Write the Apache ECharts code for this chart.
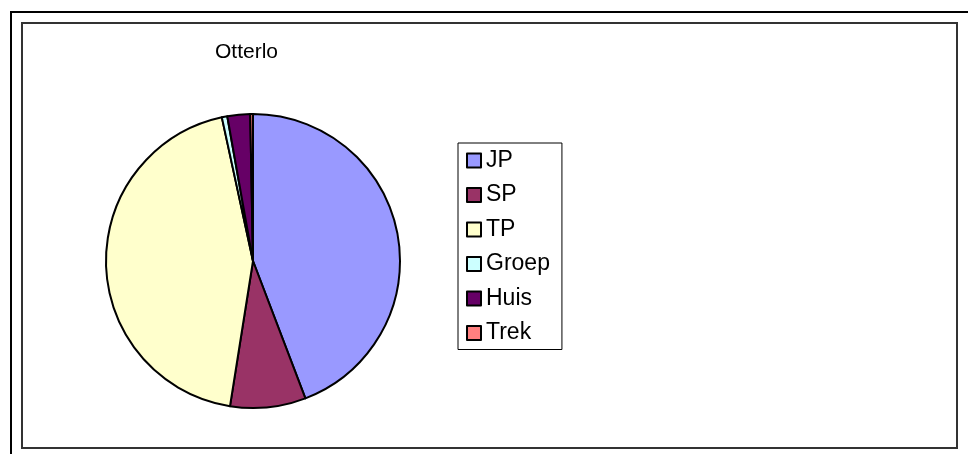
<!DOCTYPE html>
<html>
<head>
<meta charset="utf-8">
<script src="https://cdn.jsdelivr.net/npm/echarts@6/dist/echarts.min.js"></script>
<style>
html,body{margin:0;padding:0;background:#fff;}
#chart{width:968px;height:454px;}
</style>
</head>
<body>
<div id="chart"></div>
<script>
var categories = ['JP', 'SP', 'TP', 'Groep', 'Huis', 'Trek'];
var values = [44.2, 8.3, 44.1, 0.6, 2.5, 0.3];
var colors = ['#9999FF', '#993366', '#FFFFCC', '#CCFFFF', '#660066', '#FF8080'];
var titleText = 'Otterlo';

var chart = echarts.init(document.getElementById('chart'));
var font = '"Liberation Sans", Arial, sans-serif';
chart.setOption({
  animation: false,
  color: colors,
  title: {
    text: titleText,
    left: 215,
    top: 42,
    padding: 0,
    textStyle: { fontFamily: font, fontSize: 21, fontWeight: 'normal', color: '#000' }
  },
  legend: {
    orient: 'vertical',
    left: 458,
    top: 143,
    padding: [6, 12, 5, 8],
    itemGap: 11.5,
    itemWidth: 14,
    itemHeight: 14,
    icon: 'rect',
    borderColor: '#000',
    borderWidth: 1,
    itemStyle: { borderColor: '#000', borderWidth: 2 },
    textStyle: { fontFamily: font, fontSize: 23, color: '#000', lineHeight: 22, padding: [0, 0, 0, 0] },
    data: categories
  },
  graphic: [
    { type: 'rect', shape: { x: 11, y: 12, width: 980, height: 470 }, style: { fill: 'none', stroke: '#000', lineWidth: 2 }, silent: true },
    { type: 'rect', shape: { x: 22, y: 23, width: 935, height: 425 }, style: { fill: 'none', stroke: '#333', lineWidth: 2 }, silent: true }
  ],
  series: [{
    type: 'pie',
    center: [253, 261],
    radius: 147,
    startAngle: 90,
    clockwise: true,
    label: { show: false },
    labelLine: { show: false },
    emphasis: { disabled: true },
    itemStyle: { borderColor: '#000', borderWidth: 2 },
    data: categories.map(function (c, i) { return { name: c, value: values[i] }; })
  }]
});
</script>
</body>
</html>
